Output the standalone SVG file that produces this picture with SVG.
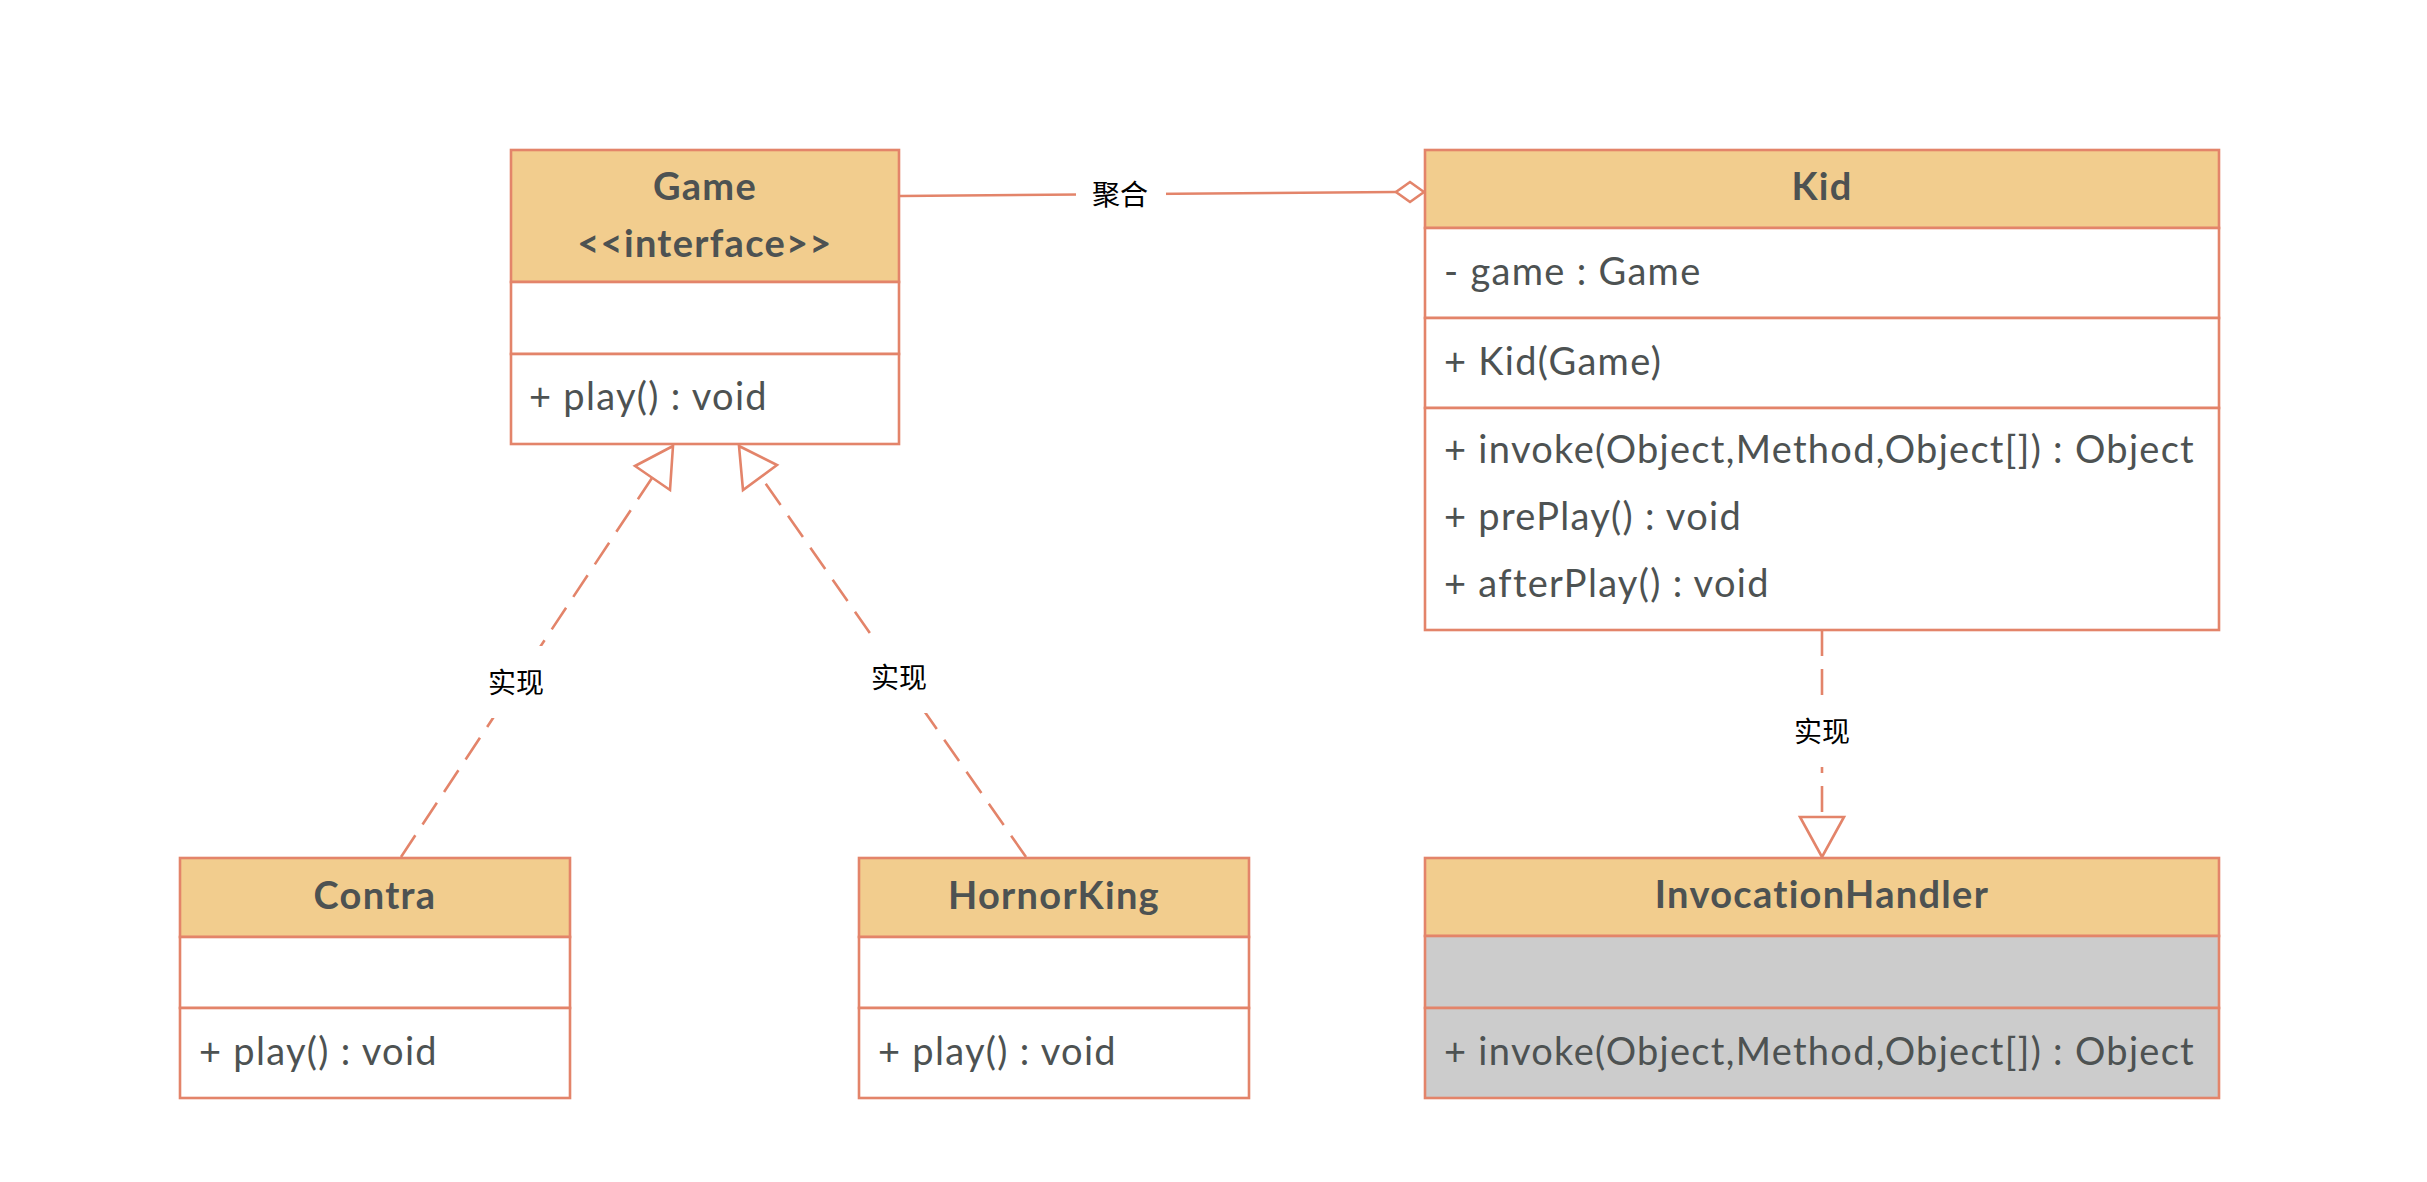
<svg xmlns="http://www.w3.org/2000/svg" width="2427" height="1182" viewBox="0 0 2427 1182">
<style>
.box{stroke:#E3846A;stroke-width:2.6;}
.hd{fill:#F2CD8E;}
.wh{fill:#FFFFFF;}
.gy{fill:#CCCCCC;}
.t{font-family:Lato,"Open Sans",sans-serif;font-size:38px;letter-spacing:1.3px;fill:#4D5252;}
.tb{font-family:Lato,"Open Sans",sans-serif;font-size:38px;letter-spacing:1.3px;font-weight:bold;fill:#4D5252;text-anchor:middle;}
.ln{stroke:#E3846A;stroke-width:2.6;fill:none;}
.dash{stroke-dasharray:26 13;}
.lbl{font-family:"Noto Sans CJK SC",sans-serif;font-size:28px;fill:#000;text-anchor:middle;}
.lbg{fill:#FFFFFF;}
.head{fill:#FFFFFF;stroke:#E3846A;stroke-width:2.6;stroke-linejoin:miter;}
</style>
<rect width="2427" height="1182" fill="#FFFFFF"/>
<g id="connectors">
  <line class="ln" x1="900" y1="196" x2="1396" y2="192"/>
  <rect class="lbg" x="1076" y="172" width="90" height="46"/>
  <text class="lbl" x="1120" y="205">聚合</text>
  <polygon class="head" points="1424,192 1410,182 1396,192 1410,202"/>

  <line class="ln dash" x1="401" y1="857" x2="652" y2="478"/>
  <rect class="lbg" x="476" y="646" width="80" height="72"/>
  <text class="lbl" x="516" y="693">实现</text>
  <polygon class="head" points="673,446 635,466 670,490"/>

  <line class="ln dash" x1="1026" y1="857" x2="761" y2="477"/>
  <rect class="lbg" x="859" y="641" width="80" height="72"/>
  <text class="lbl" x="899" y="688">实现</text>
  <polygon class="head" points="739,446 777,465 743,490"/>

  <line class="ln dash" x1="1822" y1="630" x2="1822" y2="817"/>
  <rect class="lbg" x="1782" y="695" width="80" height="72"/>
  <text class="lbl" x="1822" y="742">实现</text>
  <polygon class="head" points="1800,817 1844,817 1822,857"/>
</g>
<g id="Game">
  <rect class="box hd" x="511" y="150" width="388" height="132"/>
  <rect class="box wh" x="511" y="282" width="388" height="72"/>
  <rect class="box wh" x="511" y="354" width="388" height="90"/>
  <text class="tb" x="705" y="200">Game</text>
  <text class="tb" x="705" y="257">&lt;&lt;interface&gt;&gt;</text>
  <text class="t" x="529" y="410">+ play() : void</text>
</g>
<g id="Kid">
  <rect class="box hd" x="1425" y="150" width="794" height="78"/>
  <rect class="box wh" x="1425" y="228" width="794" height="90"/>
  <rect class="box wh" x="1425" y="318" width="794" height="90"/>
  <rect class="box wh" x="1425" y="408" width="794" height="222"/>
  <text class="tb" x="1822" y="200">Kid</text>
  <text class="t" x="1444" y="285">- game : Game</text>
  <text class="t" x="1444" y="375">+ Kid(Game)</text>
  <text class="t" x="1444" y="463">+ invoke(Object,Method,Object[]) : Object</text>
  <text class="t" x="1444" y="530">+ prePlay() : void</text>
  <text class="t" x="1444" y="597">+ afterPlay() : void</text>
</g>
<g id="Contra">
  <rect class="box hd" x="180" y="858" width="390" height="79"/>
  <rect class="box wh" x="180" y="937" width="390" height="71"/>
  <rect class="box wh" x="180" y="1008" width="390" height="90"/>
  <text class="tb" x="375" y="909">Contra</text>
  <text class="t" x="199" y="1065">+ play() : void</text>
</g>
<g id="HornorKing">
  <rect class="box hd" x="859" y="858" width="390" height="79"/>
  <rect class="box wh" x="859" y="937" width="390" height="71"/>
  <rect class="box wh" x="859" y="1008" width="390" height="90"/>
  <text class="tb" x="1054" y="909">HornorKing</text>
  <text class="t" x="878" y="1065">+ play() : void</text>
</g>
<g id="InvocationHandler">
  <rect class="box hd" x="1425" y="858" width="794" height="78"/>
  <rect class="box gy" x="1425" y="936" width="794" height="72"/>
  <rect class="box gy" x="1425" y="1008" width="794" height="90"/>
  <text class="tb" x="1822" y="908">InvocationHandler</text>
  <text class="t" x="1444" y="1065">+ invoke(Object,Method,Object[]) : Object</text>
</g>
</svg>
